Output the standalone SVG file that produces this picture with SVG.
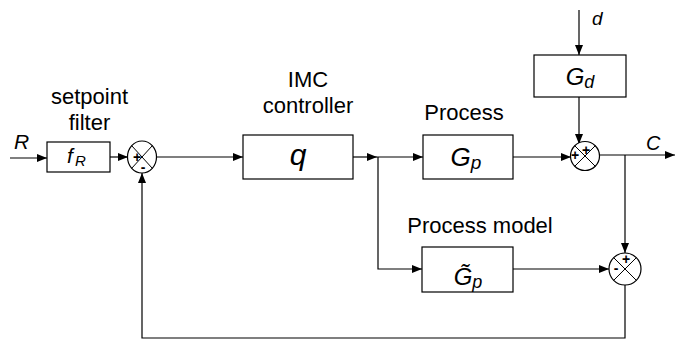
<svg xmlns="http://www.w3.org/2000/svg" width="675" height="342" viewBox="0 0 675 342">
<style>
.box{fill:#fff;stroke:#000;stroke-width:1.2}
.sum{fill:#fff;stroke:#000;stroke-width:1.2}
.x{stroke:#000;stroke-width:1}
.ln{fill:none;stroke:#000;stroke-width:1.2}
.lbl{font-family:"Liberation Sans",Arial,sans-serif;font-size:22px;fill:#000}
.sym{font-family:"Liberation Sans",Arial,sans-serif;font-style:italic;fill:#000}
.sg{font-family:"Liberation Sans",Arial,sans-serif;font-size:14px;font-weight:bold;fill:#000;text-anchor:middle}
</style>
<defs>
<marker id="ah" viewBox="0 0 10 8" refX="10" refY="4" markerWidth="10" markerHeight="8" markerUnits="userSpaceOnUse" orient="auto">
<path d="M0,0 L10,4 L0,8 z" fill="#000"/>
</marker>
</defs>
<g id="connectors">
<path class="ln" d="M10,158 H47" marker-end="url(#ah)"/>
<path class="ln" d="M110,157 H128" marker-end="url(#ah)"/>
<path class="ln" d="M157,157 H243" marker-end="url(#ah)"/>
<path class="ln" d="M353,157 H377" marker-end="url(#ah)"/>
<path class="ln" d="M377,157 H423" marker-end="url(#ah)"/>
<path class="ln" d="M378,157 V269 H422" marker-end="url(#ah)"/>
<path class="ln" d="M513,157 H571" marker-end="url(#ah)"/>
<path class="ln" d="M579,10 V55" marker-end="url(#ah)"/>
<path class="ln" d="M579,97 V144" marker-end="url(#ah)"/>
<path class="ln" d="M599,155 H675" marker-end="url(#ah)"/>
<path class="ln" d="M625,155 V253" marker-end="url(#ah)"/>
<path class="ln" d="M513,269 H609" marker-end="url(#ah)"/>
<path class="ln" d="M625,285 V338 H142 V173" marker-end="url(#ah)"/>
</g>
<g id="input-R"><text class="sym" x="14" y="149" font-size="21">R</text></g>
<g id="setpoint-filter">
<text class="lbl" x="89.5" y="104" text-anchor="middle">setpoint</text>
<text class="lbl" x="89.5" y="130" text-anchor="middle">filter</text>
<rect class="box" x="47" y="142" width="63" height="30"/>
<text class="sym" x="67" y="163" font-size="21">f</text>
<text class="sym" x="75" y="166" font-size="15">R</text>
</g>
<g id="sum1">
<ellipse class="sum" cx="142" cy="157" rx="14.5" ry="16"/>
<path class="x" d="M131.7,145.7 L152.3,168.3 M152.3,145.7 L131.7,168.3"/>
<text class="sg" x="137" y="162">+</text>
<text class="sg" x="143" y="172">-</text>
</g>
<g id="imc-controller">
<text class="lbl" x="308" y="87" text-anchor="middle">IMC</text>
<text class="lbl" x="308" y="113" text-anchor="middle">controller</text>
<rect class="box" x="243" y="135" width="110" height="44"/>
<text class="sym" x="298" y="165" font-size="30" text-anchor="middle">q</text>
</g>
<g id="process">
<text class="lbl" x="464" y="120" text-anchor="middle">Process</text>
<rect class="box" x="423" y="135" width="90" height="44"/>
<text class="sym" x="466" y="166" font-size="26" text-anchor="middle">G<tspan font-size="19" dy="3">p</tspan></text>
</g>
<g id="disturbance">
<text class="sym" x="592" y="25" font-size="19">d</text>
<rect class="box" x="534" y="55" width="92" height="42"/>
<text class="sym" x="580" y="85" font-size="24" text-anchor="middle">G<tspan font-size="18" dy="3">d</tspan></text>
</g>
<g id="sum2">
<circle class="sum" cx="585" cy="156" r="14.5"/>
<path class="x" d="M574.7,145.7 L595.3,166.3 M595.3,145.7 L574.7,166.3"/>
<text class="sg" x="575" y="160">+</text>
<text class="sg" x="586" y="155">+</text>
</g>
<g id="output-C"><text class="sym" x="646" y="150" font-size="20">C</text></g>
<g id="process-model">
<text class="lbl" x="480" y="233" text-anchor="middle">Process model</text>
<rect class="box" x="422" y="247" width="91" height="45"/>
<text class="sym" x="468" y="285" font-size="24" text-anchor="middle">G̃<tspan font-size="18" dy="3">p</tspan></text>
</g>
<g id="sum3">
<circle class="sum" cx="625" cy="269" r="16"/>
<path class="x" d="M613.7,257.7 L636.3,280.3 M636.3,257.7 L613.7,280.3"/>
<text class="sg" x="626" y="264">+</text>
<text class="sg" x="616" y="273">-</text>
</g>
</svg>
